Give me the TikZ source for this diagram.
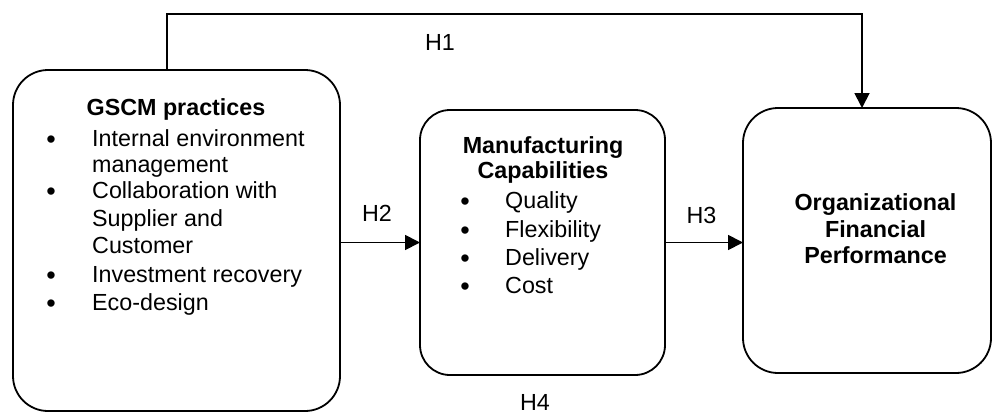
\documentclass[tikz,border=0pt]{standalone}
\usepackage{fontspec}
\setmainfont{Liberation Sans}
\usetikzlibrary{arrows.meta}
\begin{document}
\begin{tikzpicture}[x=1pt,y=-1pt,
  box/.style={draw, line width=1.8pt, rounded corners=#1, inner sep=0pt, outer sep=0pt},
  box/.default=35pt,
  conn/.style={line width=1.8pt},
  arr/.style={conn, -{Triangle[length=15pt,width=15pt]}},
  txt/.style={inner sep=0pt, font=\fontsize{23.3}{27}\selectfont},
  ttl/.style={txt, font=\fontsize{23.3}{27}\selectfont\bfseries},
  lbl/.style={txt, anchor=base west},
  bul/.style={inner sep=0pt, anchor=base, yshift=-2pt, font=\fontsize{27}{27}\selectfont}]
\useasboundingbox (0,0) rectangle (993,413);
% boxes
\node[box, minimum width=327pt, minimum height=341pt] (b1) at (176.5,240.5) {};
\node[box=30pt, minimum width=245pt, minimum height=265pt] (b2) at (542.5,242.5) {};
\node[box, minimum width=248pt, minimum height=265pt] (b3) at (867,240.5) {};
% box 1 text
\node[ttl, anchor=base] (t1) at (176,115) {GSCM practices};
\node[bul] (p1) at (51,146) {•};
\node[lbl] (l1) at (92,146) {Internal environment};
\node[lbl] (l2) at (92,172) {management};
\node[bul] (p2) at (51,198) {•};
\node[lbl] (l3) at (92,198) {Collaboration with};
\node[lbl] (l4) at (92,226) {Supplier and};
\node[lbl] (l5) at (92,253) {Customer};
\node[bul] (p3) at (51,282) {•};
\node[lbl] (l6) at (92,282) {Investment recovery};
\node[bul] (p4) at (51,310) {•};
\node[lbl] (l7) at (92,310) {Eco-design};
% box 2 text
\node[ttl, anchor=base] (t2a) at (543,153) {Manufacturing};
\node[ttl, anchor=base] (t2b) at (543,178) {Capabilities};
\node[bul] (q1) at (465,208) {•};
\node[lbl] (m1) at (505,208) {Quality};
\node[bul] (q2) at (465,237) {•};
\node[lbl] (m2) at (505,237) {Flexibility};
\node[bul] (q3) at (465,265) {•};
\node[lbl] (m3) at (505,265) {Delivery};
\node[bul] (q4) at (465,293) {•};
\node[lbl] (m4) at (505,293) {Cost};
% box 3 text
\node[ttl, anchor=base] (t3a) at (875.5,210) {Organizational};
\node[ttl, anchor=base] (t3b) at (875.5,237) {Financial};
\node[ttl, anchor=base] (t3c) at (875.5,263.5) {Performance};
% connectors
\coordinate (c1) at (167,14);
\coordinate (c2) at (862,14);
\draw[arr] (b1.north -| c1) -- (c1) -- (c2) -- (b3.north -| c2);
\draw[arr] (b1.east |- b2.west) -- (b2.west);
\draw[arr] (b2.east) -- (b3.west |- b2.east);
% labels
\node[txt, anchor=base] (h1) at (440,50) {H1};
\node[txt, anchor=base] (h2) at (377,221.5) {H2};
\node[txt, anchor=base] (h3) at (701.5,223) {H3};
\node[txt, anchor=base] (h4) at (535,410) {H4};
\end{tikzpicture}
\end{document}
